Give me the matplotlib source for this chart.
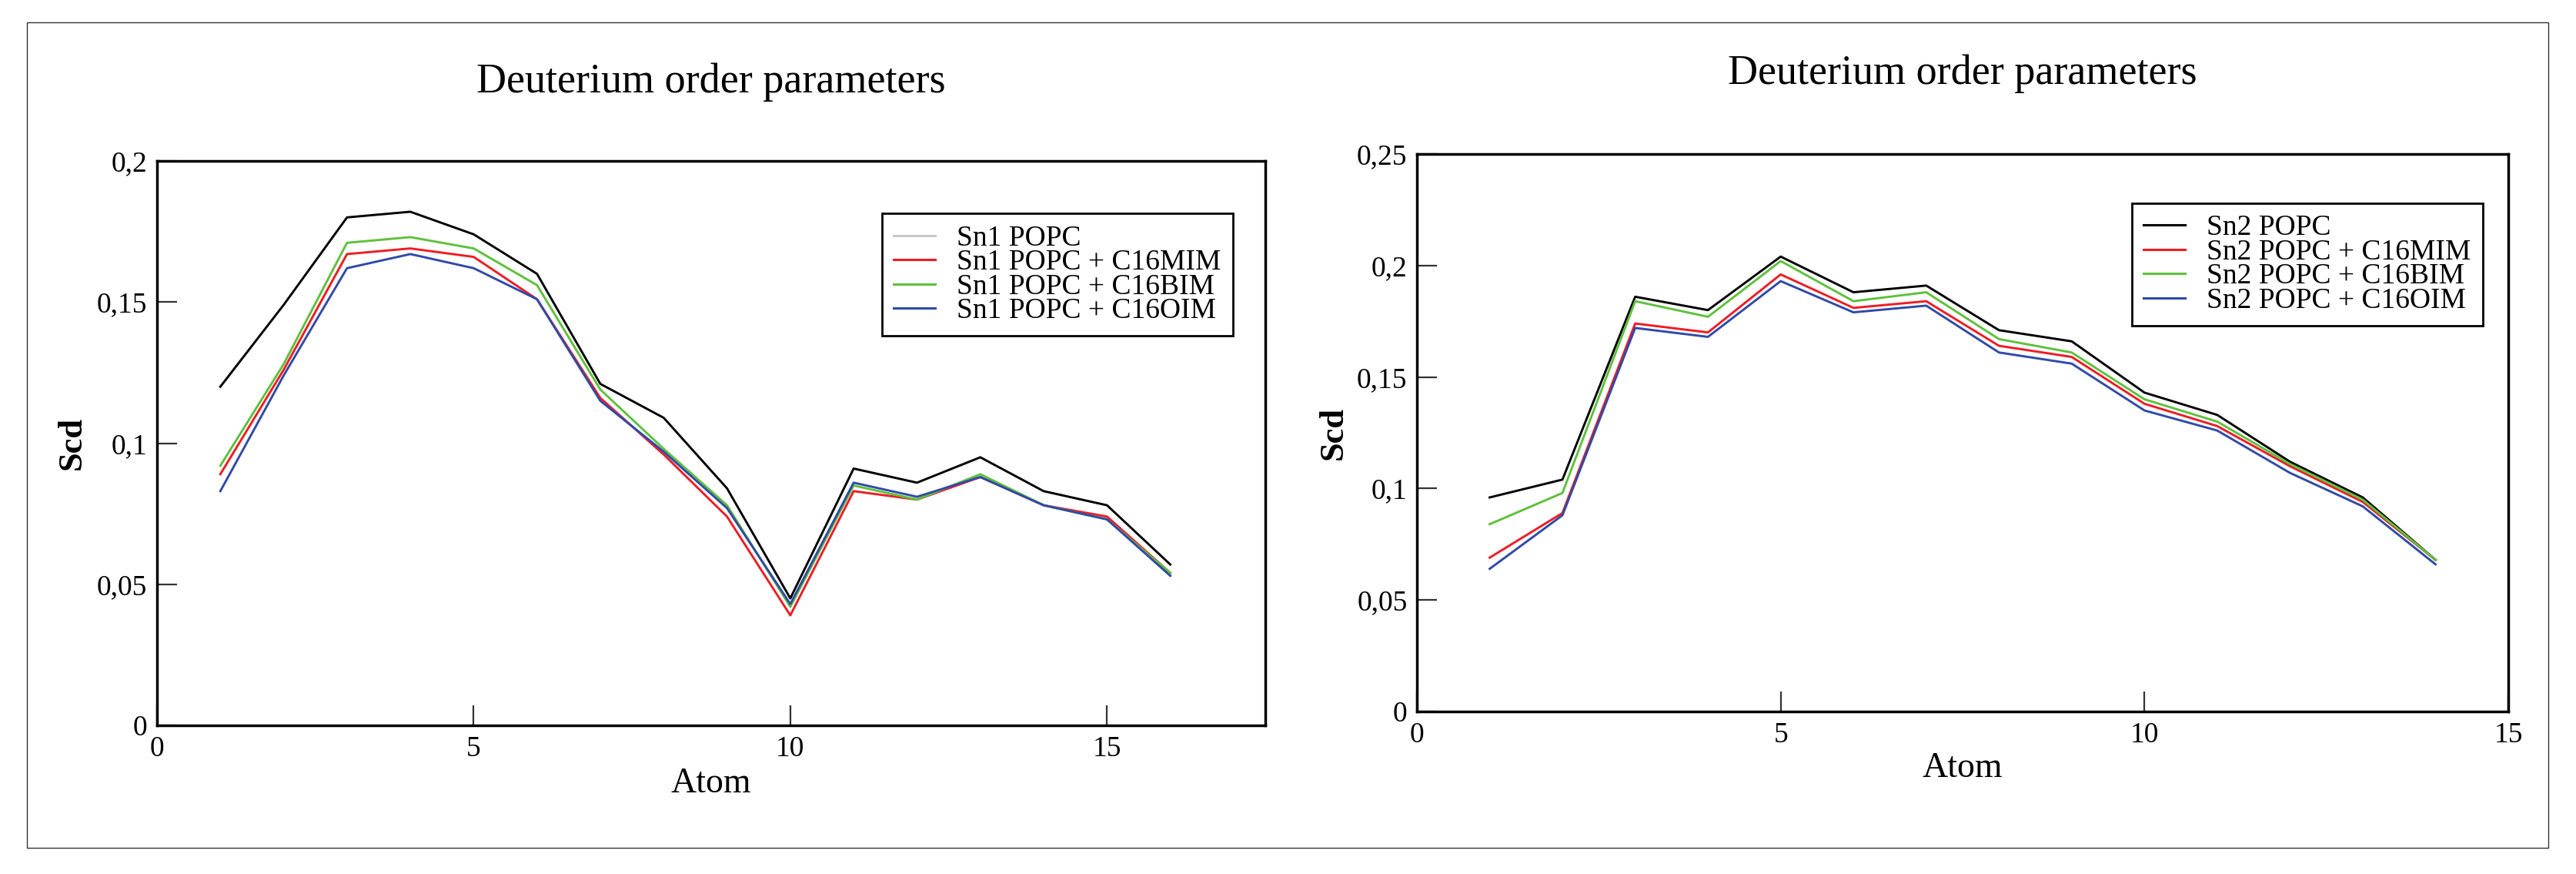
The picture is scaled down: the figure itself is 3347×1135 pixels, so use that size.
import numpy as np
import matplotlib
matplotlib.use('Agg')
from matplotlib import pyplot as plt
from matplotlib.ticker import FuncFormatter, FixedLocator
from matplotlib.patches import Rectangle

plt.rcParams['font.family'] = ['Liberation Serif', 'DejaVu Serif']

# Sn1 chain (left panel)
sn1_atoms = [1, 2, 3, 4, 5, 6, 7, 8, 9, 10, 11, 12, 13, 14, 15, 16]
sn1_popc = [0.120, 0.149, 0.180, 0.182, 0.174, 0.160, 0.121, 0.109, 0.084, 0.045,
            0.091, 0.086, 0.095, 0.083, 0.078, 0.057]
sn1_mim = [0.089, 0.126, 0.167, 0.169, 0.166, 0.151, 0.116, 0.096, 0.074, 0.039,
           0.083, 0.080, 0.088, 0.078, 0.074, 0.054]
sn1_bim = [0.092, 0.128, 0.171, 0.173, 0.169, 0.156, 0.119, 0.098, 0.078, 0.042,
           0.085, 0.080, 0.089, 0.078, 0.073, 0.054]
sn1_oim = [0.083, 0.124, 0.162, 0.167, 0.162, 0.151, 0.115, 0.097, 0.077, 0.043,
           0.086, 0.081, 0.088, 0.078, 0.073, 0.053]

# Sn2 chain (right panel)
sn2_atoms = [1, 2, 3, 4, 5, 6, 7, 8, 9, 10, 11, 12, 13, 14]
sn2_popc = [0.096, 0.104, 0.186, 0.180, 0.204, 0.188, 0.191, 0.171, 0.166, 0.143,
            0.133, 0.112, 0.096, 0.068]
sn2_mim = [0.069, 0.089, 0.174, 0.170, 0.196, 0.181, 0.184, 0.164, 0.159, 0.138,
           0.128, 0.110, 0.094, 0.068]
sn2_bim = [0.084, 0.098, 0.184, 0.177, 0.202, 0.184, 0.188, 0.167, 0.161, 0.140,
           0.130, 0.111, 0.095, 0.068]
sn2_oim = [0.064, 0.088, 0.172, 0.168, 0.193, 0.179, 0.182, 0.161, 0.156, 0.135,
           0.126, 0.107, 0.092, 0.066]

sn1_labels = ['Sn1 POPC', 'Sn1 POPC + C16MIM', 'Sn1 POPC + C16BIM', 'Sn1 POPC + C16OIM']
sn2_labels = ['Sn2 POPC', 'Sn2 POPC + C16MIM', 'Sn2 POPC + C16BIM', 'Sn2 POPC + C16OIM']
colors = ['#000000', '#ee1c24', '#5ec13c', '#2f4aa8']

left_yticks = [0, 0.05, 0.1, 0.15, 0.2]
right_yticks = [0, 0.05, 0.1, 0.15, 0.2, 0.25]
xticks = [0, 5, 10, 15]


def comma_fmt(v, pos):
    return ('%g' % round(v, 4)).replace('.', ',')


def style_axes(ax, xmax, ymax, yticks):
    ax.set_xlim(0, xmax)
    ax.set_ylim(0, ymax)
    ax.xaxis.set_major_locator(FixedLocator(xticks))
    ax.yaxis.set_major_locator(FixedLocator(yticks))
    ax.yaxis.set_major_formatter(FuncFormatter(comma_fmt))
    ax.xaxis.set_major_formatter(FuncFormatter(comma_fmt))
    ax.tick_params(axis='both', direction='in', length=19, width=1.6,
                   color='#333333', labelsize=27)
    ax.tick_params(axis='x', pad=10)
    ax.tick_params(axis='y', pad=9)
    for s in ax.spines.values():
        s.set_linewidth(2.5)
    ax.set_xlabel('Atom', fontsize=33)
    ax.set_ylabel('Scd', fontsize=32, fontweight='bold')


def add_legend(ax, anchor):
    leg = ax.legend(loc='upper left', bbox_to_anchor=anchor, fontsize=27,
                    handlelength=1.45, handletextpad=0.75, labelspacing=-0.08,
                    borderpad=0.4, borderaxespad=0, fancybox=False, framealpha=1,
                    edgecolor='black')
    leg.get_frame().set_linewidth(2)
    for ln in leg.get_lines():
        ln.set_linewidth(2.2)
    return leg


fig = plt.figure(figsize=(33.47, 11.35), dpi=100)

ax1 = fig.add_axes([0.06095, 0.17004, 0.43024, 0.64581])
for ys, lab, c in zip([sn1_popc, sn1_mim, sn1_bim, sn1_oim], sn1_labels, colors):
    ax1.plot(sn1_atoms, ys, color=c, lw=2.1, label=lab)
style_axes(ax1, 17.5, 0.2, left_yticks)
ax1.yaxis.set_label_coords(-0.063, 0.5)
ax1.xaxis.set_label_coords(0.5, -0.075)
ax1.text(0.5, 1.122, 'Deuterium order parameters', transform=ax1.transAxes,
         ha='center', va='baseline', fontsize=39)
leg1 = add_legend(ax1, (0.654, 0.907))
# the first handle is drawn light grey in the original legend
leg1.get_lines()[0].set_color('#c8c8c8')

ax2 = fig.add_axes([0.55005, 0.1859, 0.42366, 0.63789])
for ys, lab, c in zip([sn2_popc, sn2_mim, sn2_bim, sn2_oim], sn2_labels, colors):
    ax2.plot(sn2_atoms, ys, color=c, lw=2.1, label=lab)
style_axes(ax2, 15, 0.25, right_yticks)
ax2.yaxis.set_label_coords(-0.062, 0.5)
ax2.xaxis.set_label_coords(0.5, -0.073)
ax2.text(0.5, 1.126, 'Deuterium order parameters', transform=ax2.transAxes,
         ha='center', va='baseline', fontsize=39)
leg2 = add_legend(ax2, (0.655, 0.912))

# thin frame around both panels
fig.patches.append(Rectangle((0.01046, 0.02996), 0.97879, 0.94449, transform=fig.transFigure,
                             fill=False, edgecolor='#333333', linewidth=1.0))

fig.savefig('out.png', dpi=100)
